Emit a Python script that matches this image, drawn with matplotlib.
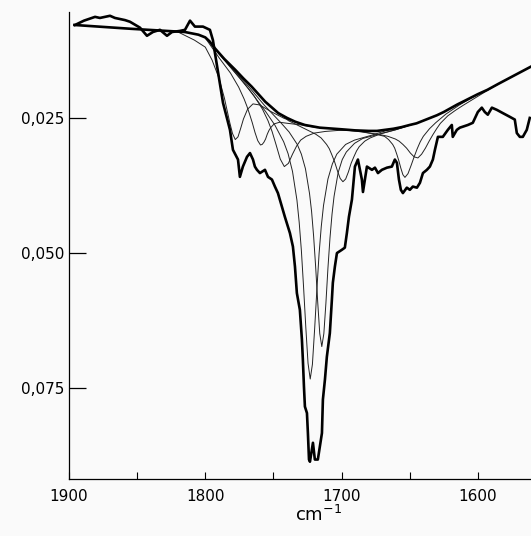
import matplotlib
matplotlib.use('Agg')
import matplotlib.pyplot as plt

# measured IR spectrum (wavenumber in cm-1, absorbance)
spec_wn = [1895.6, 1889.0, 1880.9, 1877.3, 1869.9, 1866.3, 1858.9, 1855.3, 1847.9, 1842.8,
           1838.4, 1833.3, 1828.1, 1824.4, 1818.6, 1814.9, 1811.2, 1807.6, 1801.7, 1796.6,
           1794.4, 1792.9, 1787.0, 1781.9, 1779.7, 1776.0, 1774.6, 1772.4, 1769.4, 1767.2,
           1765.0, 1763.6, 1762.1, 1759.9, 1756.2, 1754.0, 1751.1, 1748.9, 1746.7, 1743.8,
           1741.6, 1737.9, 1735.7, 1734.2, 1732.8, 1730.6, 1729.1, 1728.4, 1727.6, 1726.9,
           1725.4, 1724.7, 1723.9, 1723.2, 1721.0, 1719.6, 1717.4, 1714.4, 1713.7, 1712.2,
           1710.8, 1708.6, 1707.1, 1706.4, 1704.9, 1703.4, 1699.8, 1697.6, 1696.1, 1694.6,
           1692.4, 1690.2, 1688.0, 1685.1, 1684.3, 1681.4, 1677.7, 1675.5, 1673.3, 1670.4,
           1666.7, 1663.1, 1660.9, 1659.4, 1657.9, 1656.5, 1655.0, 1652.1, 1649.9, 1647.7,
           1644.7, 1642.5, 1640.3, 1637.4, 1635.2, 1633.0, 1631.5, 1629.3, 1625.7, 1622.0,
           1619.1, 1618.4, 1615.4, 1613.2, 1607.3, 1603.7, 1600.0, 1597.1, 1594.9, 1592.7,
           1589.7, 1586.1, 1581.7, 1576.5, 1572.9, 1571.4, 1569.2, 1567.0, 1564.1, 1561.9]
spec_abs = [0.0078, 0.0070, 0.0063, 0.0065, 0.0061, 0.0065, 0.0069, 0.0072, 0.0083, 0.0098,
            0.0091, 0.0087, 0.0098, 0.0091, 0.0089, 0.0087, 0.0070, 0.0081, 0.0081, 0.0087,
            0.0106, 0.0130, 0.0222, 0.0272, 0.0309, 0.0327, 0.0359, 0.0340, 0.0322, 0.0315,
            0.0327, 0.0340, 0.0346, 0.0352, 0.0346, 0.0359, 0.0364, 0.0377, 0.0389, 0.0414,
            0.0433, 0.0463, 0.0488, 0.0525, 0.0574, 0.0605, 0.0660, 0.0697, 0.0747, 0.0784,
            0.0796, 0.0833, 0.0882, 0.0886, 0.0851, 0.0882, 0.0882, 0.0833, 0.0771, 0.0734,
            0.0692, 0.0648, 0.0586, 0.0555, 0.0525, 0.0500, 0.0494, 0.0490, 0.0463, 0.0433,
            0.0401, 0.0340, 0.0327, 0.0364, 0.0387, 0.0340, 0.0346, 0.0342, 0.0352, 0.0346,
            0.0342, 0.0340, 0.0327, 0.0333, 0.0364, 0.0383, 0.0389, 0.0379, 0.0383, 0.0377,
            0.0379, 0.0370, 0.0352, 0.0346, 0.0340, 0.0327, 0.0309, 0.0285, 0.0285, 0.0272,
            0.0263, 0.0285, 0.0272, 0.0268, 0.0263, 0.0259, 0.0239, 0.0231, 0.0239, 0.0244,
            0.0231, 0.0235, 0.0241, 0.0248, 0.0253, 0.0278, 0.0285, 0.0285, 0.0272, 0.0250]

# smooth baseline
base_wn = [1896, 1855, 1815, 1805, 1800, 1797, 1793, 1786, 1778, 1772, 1766, 1761, 1756,
           1751, 1746.5, 1740, 1734, 1727, 1716, 1700, 1690, 1680, 1674, 1668, 1662, 1656,
           1650, 1645, 1640, 1635, 1630, 1625, 1620, 1615, 1611, 1600, 1593, 1585, 1579,
           1570, 1561]
base_abs = [0.0078, 0.0085, 0.0091, 0.0096, 0.0101, 0.0108, 0.0121, 0.0141, 0.0161, 0.0177,
            0.0192, 0.0206, 0.0220, 0.0231, 0.0241, 0.0250, 0.0257, 0.0263, 0.0268, 0.0271,
            0.0273, 0.0274, 0.0274, 0.0272, 0.0270, 0.0267, 0.0263, 0.0260, 0.0255, 0.0250,
            0.0245, 0.0239, 0.0232, 0.0225, 0.0220, 0.0206, 0.0198, 0.0187, 0.0179, 0.0167,
            0.0155]

# component bands (drawn hanging from the baseline)
band_1778_wn = [1820, 1808, 1800, 1795, 1790, 1786, 1782, 1780, 1778, 1776, 1774, 1772,
                1769, 1765, 1760, 1752, 1742, 1734]
band_1778_abs = [0.0091, 0.0106, 0.0119, 0.0143, 0.0176, 0.0213, 0.0259, 0.0279, 0.0290,
                 0.0285, 0.0269, 0.0252, 0.0234, 0.0224, 0.0226, 0.0238, 0.0251, 0.0257]

band_1760_wn = [1800, 1789.5, 1781.5, 1775.5, 1771.5, 1769.5, 1767.5, 1765.5, 1763.5,
                1761.5, 1759.5, 1758.25, 1757, 1755.75, 1754.5, 1753.25, 1752, 1749.5,
                1745.5, 1739.5, 1729.5, 1718]
band_1760_abs = [0.0102, 0.0140, 0.0167, 0.0193, 0.0215, 0.0228, 0.0243, 0.0259, 0.0277,
                 0.0292, 0.0300, 0.0299, 0.0295, 0.0289, 0.0280, 0.0273, 0.0268, 0.0261,
                 0.0258, 0.0260, 0.0263, 0.0268]

band_1742_wn = [1795, 1782, 1772, 1764, 1758, 1754, 1751, 1748, 1745, 1742, 1739, 1736,
                1733, 1730, 1726, 1720, 1712, 1702, 1688]
band_1742_abs = [0.0116, 0.0155, 0.0184, 0.0210, 0.0234, 0.0255, 0.0275, 0.0300, 0.0326,
                 0.0340, 0.0334, 0.0317, 0.0302, 0.0291, 0.0284, 0.0278, 0.0275, 0.0273,
                 0.0273]

band_1723_wn = [1785, 1768, 1755.5, 1749, 1742.5, 1739.25, 1736, 1732.75, 1731.1, 1729.5,
                1727.9, 1726.25, 1724.6, 1723, 1721.4, 1719.75, 1718.1, 1716.5, 1714.9,
                1713.25, 1710, 1706.75, 1703.5, 1697, 1690.5, 1678, 1668, 1658]
band_1723_abs = [0.0145, 0.0197, 0.0239, 0.0263, 0.0294, 0.0316, 0.0349, 0.0402, 0.0443,
                 0.0495, 0.0562, 0.0637, 0.0704, 0.0733, 0.0706, 0.0640, 0.0567, 0.0501,
                 0.0451, 0.0412, 0.0363, 0.0335, 0.0317, 0.0299, 0.0291, 0.0282, 0.0274,
                 0.0268]

band_1714_wn = [1785, 1768.5, 1756.5, 1744.5, 1738.5, 1732.5, 1729.5, 1726.5, 1723.5, 1722,
                1720.5, 1719, 1717.5, 1716, 1714.5, 1713, 1711.5, 1710, 1708.5, 1707,
                1705.5, 1702.5, 1699.5, 1696.5, 1690.5, 1684.5, 1672.5, 1660.5, 1650]
band_1714_abs = [0.0145, 0.0191, 0.0227, 0.0259, 0.0276, 0.0299, 0.0317, 0.0344, 0.0390,
                 0.0423, 0.0469, 0.0526, 0.0591, 0.0649, 0.0673, 0.0649, 0.0593, 0.0528,
                 0.0472, 0.0428, 0.0395, 0.0351, 0.0327, 0.0313, 0.0297, 0.0288, 0.0280,
                 0.0272, 0.0263]

band_1699_wn = [1750, 1739, 1727, 1719, 1715, 1711, 1709, 1707, 1705, 1703, 1701, 1699,
                1697, 1695, 1693, 1691, 1689, 1687, 1683, 1679, 1671, 1659, 1648]
band_1699_abs = [0.0233, 0.0255, 0.0270, 0.0280, 0.0287, 0.0299, 0.0307, 0.0319, 0.0332,
                 0.0348, 0.0362, 0.0368, 0.0363, 0.0350, 0.0334, 0.0322, 0.0311, 0.0303,
                 0.0293, 0.0287, 0.0279, 0.0271, 0.0262]

band_1654_wn = [1690, 1681.5, 1673.5, 1668.5, 1665.5, 1662.5, 1661, 1659.5, 1658, 1656.5,
                1655, 1653.5, 1651.25, 1649, 1646.75, 1644.5, 1642.25, 1640, 1635.5, 1631,
                1623.5, 1613.5, 1600]
band_1654_abs = [0.0273, 0.0277, 0.0281, 0.0284, 0.0290, 0.0299, 0.0306, 0.0317, 0.0329,
                 0.0343, 0.0355, 0.0360, 0.0353, 0.0338, 0.0322, 0.0307, 0.0294, 0.0284,
                 0.0270, 0.0259, 0.0243, 0.0226, 0.0206]

band_1644_wn = [1699, 1688, 1677, 1671.5, 1666, 1660.5, 1657.75, 1655, 1652.25, 1649.5,
                1646.75, 1644, 1641.25, 1638.5, 1635.75, 1633, 1630.25, 1627.5, 1622,
                1616.5, 1611, 1600, 1589, 1579]
band_1644_abs = [0.0272, 0.0275, 0.0279, 0.0281, 0.0284, 0.0289, 0.0293, 0.0299, 0.0306,
                 0.0315, 0.0322, 0.0324, 0.0317, 0.0306, 0.0293, 0.0281, 0.0270, 0.0260,
                 0.0246, 0.0236, 0.0227, 0.0210, 0.0193, 0.0179]

bands = [(band_1778_wn, band_1778_abs), (band_1760_wn, band_1760_abs),
         (band_1742_wn, band_1742_abs), (band_1723_wn, band_1723_abs),
         (band_1714_wn, band_1714_abs), (band_1699_wn, band_1699_abs),
         (band_1654_wn, band_1654_abs), (band_1644_wn, band_1644_abs)]

bg = '#fafafa'
fig = plt.figure(figsize=(5.31, 5.36), dpi=100, facecolor=bg)
ax = fig.add_axes([69 / 531, 57 / 536, 462 / 531, 467 / 536], facecolor=bg)

for wn, ab in bands:
    ax.plot(wn, ab, color='#222222', lw=0.7)
ax.plot(base_wn, base_abs, color='black', lw=1.9, solid_joinstyle='round')
ax.plot(spec_wn, spec_abs, color='black', lw=1.9, solid_joinstyle='round')

ax.set_xlim(1900, 1561)
ax.set_ylim(0.0918, 0.0054)

for side in ['top', 'right']:
    ax.spines[side].set_visible(False)
ax.spines['left'].set_linewidth(0.9)
ax.spines['bottom'].set_linewidth(0.9)

ax.set_xticks([1900, 1800, 1700, 1600])
ax.set_xticks([1850, 1750, 1650], minor=True)
ax.tick_params(axis='x', which='both', direction='in', length=5, width=0.8,
               pad=7, labelsize=11)
ax.set_yticks([0.025, 0.050, 0.075])
ax.set_yticklabels(['0,025', '0,050', '0,075'])
ax.tick_params(axis='y', direction='in', length=12, width=0.9, pad=3, labelsize=11)

ax.set_xlabel('cm$^{-1}$', fontsize=13)
ax.xaxis.set_label_coords(0.54, -0.055)

fig.savefig('out.png', dpi=100, facecolor=fig.get_facecolor())
